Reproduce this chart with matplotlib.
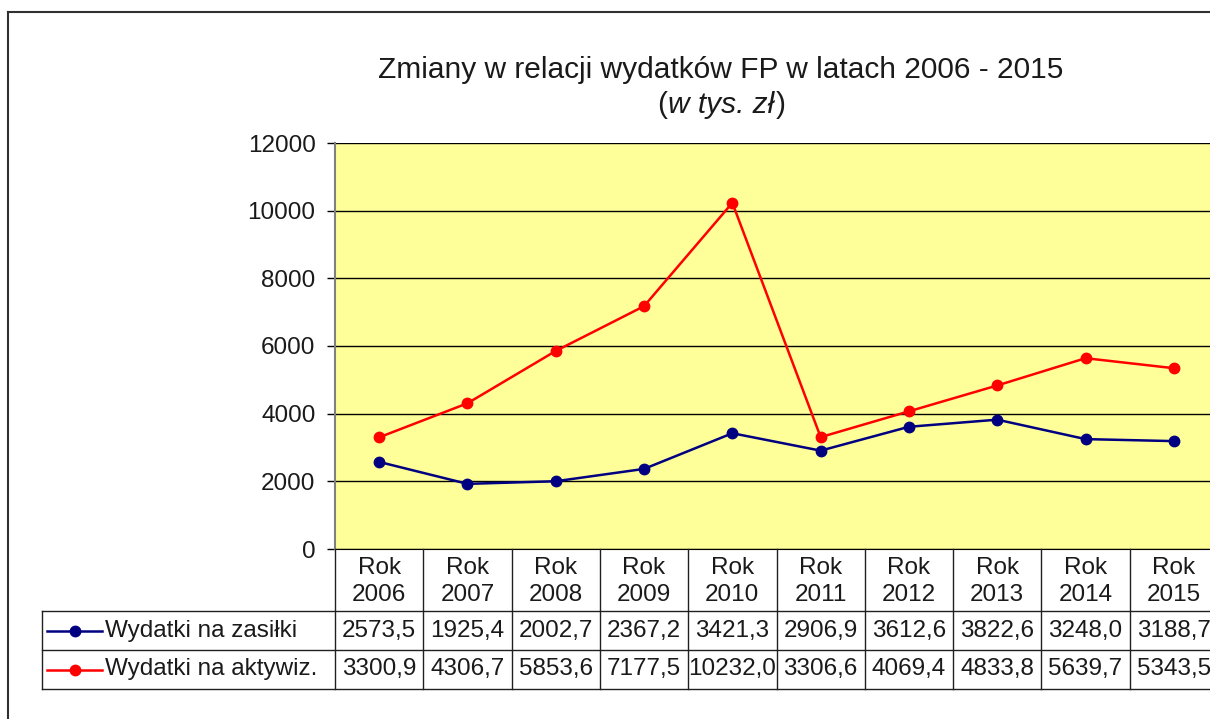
import matplotlib
matplotlib.use("Agg")
import matplotlib.pyplot as plt
from matplotlib.transforms import blended_transform_factory
from matplotlib.lines import Line2D
from matplotlib.patches import Rectangle

plt.rcParams['font.family'] = ['Liberation Sans', 'DejaVu Sans']

years = ["2006", "2007", "2008", "2009", "2010", "2011", "2012", "2013", "2014", "2015"]
zasilki = [2573.5, 1925.4, 2002.7, 2367.2, 3421.3, 2906.9, 3612.6, 3822.6, 3248.0, 3188.7]
aktywiz = [3300.9, 4306.7, 5853.6, 7177.5, 10232.0, 3306.6, 4069.4, 4833.8, 5639.7, 5343.5]
series_names = ["Wydatki na zasiłki", "Wydatki na aktywiz."]
series_colors = ["#000080", "#FF0000"]
yticks = [0, 2000, 4000, 6000, 8000, 10000, 12000]

W, H = 1210, 719
fig = plt.figure(figsize=(W / 100, H / 100), dpi=100)

def fx(x):
    return x / W

def fy(y):
    return 1 - y / H

FS = 17.5
TC = "#1a1a1a"

# outer chart border
fig.add_artist(Line2D([fx(8), fx(8)], [fy(12), fy(725)], color="#303030", lw=1.5))
fig.add_artist(Line2D([fx(8), fx(1215)], [fy(12), fy(12)], color="#303030", lw=1.5))

left, right, top, bottom = 335, 1218, 143, 549
ax = fig.add_axes([fx(left), fy(bottom), (right - left) / W, (bottom - top) / H])
ax.set_facecolor("#FFFF99")
x = list(range(len(years)))
ax.set_xlim(-0.5, len(years) - 0.5)
ax.set_ylim(0, 12000)
ax.set_yticks(yticks)
ax.set_yticklabels([str(v) for v in yticks], fontsize=FS, color=TC)
ax.yaxis.grid(True, color="#000000", lw=1)
ax.set_axisbelow(True)
ax.set_xticks([])
ax.tick_params(axis='y', direction='out', length=6, width=1, color="#000000", pad=8)
for s in ["right", "top"]:
    ax.spines[s].set_visible(False)
ax.spines["left"].set_color("#808080")
ax.spines["left"].set_linewidth(1.5)
ax.spines["bottom"].set_color("#000000")

for vals, col in zip([zasilki, aktywiz], series_colors):
    ax.plot(x, vals, color=col, lw=1.8, marker="o", markersize=7.5, clip_on=False)

# title
fig.text(fx(721), fy(70), "Zmiany w relacji wydatków FP w latach 2006 - 2015",
         ha="center", va="center", fontsize=21.5, color=TC)
sub = fig.text(fx(721), fy(105), "w tys. zł", ha="center", va="center",
               fontsize=21.5, style="italic", color=TC)
renderer = fig.canvas.get_renderer()
bb = sub.get_window_extent(renderer)
fig.text(bb.x0 / W - 0.001, fy(105), "(", ha="right", va="center", fontsize=21.5, color=TC)
fig.text(bb.x1 / W + 0.001, fy(105), ")", ha="left", va="center", fontsize=21.5, color=TC)

# data table
tr = blended_transform_factory(ax.transData, fig.transFigure)
row_h = 549, 611, 650, 689
lc = "#202020"
for yy in row_h[1:]:
    fig.add_artist(Line2D([fx(42), fx(1215)], [fy(yy), fy(yy)], color=lc, lw=1))
for i in range(len(years) + 1):
    xb = i - 0.5
    fig.add_artist(Line2D([xb, xb], [fy(row_h[0]), fy(row_h[3])], color=lc, lw=1,
                          transform=tr))
fig.add_artist(Line2D([fx(42), fx(42)], [fy(row_h[1]), fy(row_h[3])], color=lc, lw=1))

for i, yr in enumerate(years):
    fig.text(i, fy(568), "Rok", transform=tr, ha="center", va="center", fontsize=FS, color=TC)
    fig.text(i, fy(595), yr, transform=tr, ha="center", va="center", fontsize=FS, color=TC)
    for r, vals in enumerate([zasilki, aktywiz]):
        yc = (row_h[r + 1] + row_h[r + 2]) / 2
        t = fig.text(i, fy(yc), f"{vals[i]:.1f}".replace(".", ","), transform=tr,
                     ha="center", va="center", fontsize=FS, color=TC)
        clip = Rectangle((i - 0.5, fy(row_h[r + 2])), 1.0, (row_h[r + 2] - row_h[r + 1]) / H,
                         transform=tr, visible=False)
        fig.add_artist(clip)
        t.set_clip_path(clip)

for r, (name, col) in enumerate(zip(series_names, series_colors)):
    yc = (row_h[r + 1] + row_h[r + 2]) / 2
    fig.add_artist(Line2D([fx(47), fx(102)], [fy(yc), fy(yc)], color=col, lw=1.8))
    fig.add_artist(Line2D([fx(75)], [fy(yc)], color=col, marker="o", markersize=7.5))
    fig.text(fx(105), fy(yc), name, ha="left", va="center", fontsize=FS, color=TC)

fig.savefig("out.png", dpi=100)
